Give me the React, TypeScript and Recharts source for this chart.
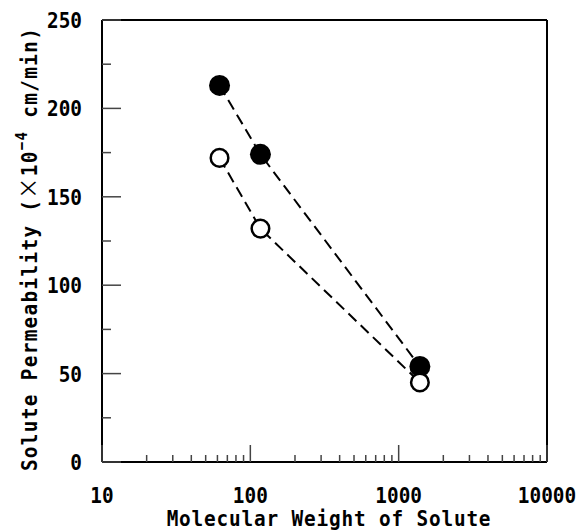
import React from 'react';
import {
  ScatterChart,
  Scatter,
  XAxis,
  YAxis,
  ReferenceLine,
} from 'recharts';

// Molecular weight of the three solutes
const molecularWeights = [62, 117, 1390];
// Solute permeability (x10^-4 cm/min)
const filledPermeability = [213, 174, 54];
const openPermeability = [172, 132, 45];

const xMajorTicks = [10, 100, 1000, 10000];
const xMinorTicks = [
  20, 30, 40, 50, 60, 70, 80, 90,
  200, 300, 400, 500, 600, 700, 800, 900,
  2000, 3000, 4000, 5000, 6000, 7000, 8000, 9000,
];
const yMajorTicks = [0, 50, 100, 150, 200, 250];
const yMinorTicks = [25, 75, 125, 175, 225];

const filledData = molecularWeights.map((w, i) => ({ x: w, y: filledPermeability[i] }));
const openData = molecularWeights.map((w, i) => ({ x: w, y: openPermeability[i] }));

const FONT = '"DejaVu Sans Mono", monospace';
const TICK_COLOR = '#444';
// gothic-looking condensed text: mono font squeezed horizontally
const SQUEEZE = 0.88;

const XTick = (props: any) => {
  const { x, y, payload } = props;
  const major = xMajorTicks.includes(payload.value);
  return (
    <g>
      <line x1={x} y1={y} x2={x} y2={y - (major ? 17 : 7)} stroke={TICK_COLOR} strokeWidth={1.5} />
      {major && (
        <text
          transform={`translate(${x}, ${y + 41}) scale(${SQUEEZE}, 1)`}
          textAnchor="middle"
          fontFamily={FONT}
          fontWeight="bold"
          fontSize={22}
          fill="#000"
        >
          {payload.value}
        </text>
      )}
    </g>
  );
};

const YTick = (props: any) => {
  const { x, y, payload } = props;
  const major = yMajorTicks.includes(payload.value);
  return (
    <g>
      <line x1={x} y1={y} x2={x + (major ? 19 : 9)} y2={y} stroke={TICK_COLOR} strokeWidth={1.5} />
      {major && (
        <text
          transform={`translate(${x - 20}, ${y + 8}) scale(${SQUEEZE}, 1)`}
          textAnchor="end"
          fontFamily={FONT}
          fontWeight="bold"
          fontSize={22}
          fill="#000"
        >
          {payload.value}
        </text>
      )}
    </g>
  );
};

const filledDot = (p: any) => <circle cx={p.cx} cy={p.cy} r={10.5} fill="#000" />;
const openDot = (p: any) => (
  <circle cx={p.cx} cy={p.cy} r={8.8} fill="#fff" stroke="#000" strokeWidth={2.5} />
);

const dashLine = { stroke: '#000', strokeWidth: 2, strokeDasharray: '11 6' };

export default function App() {
  return (
    <div style={{ position: 'absolute', left: 0, top: 0, width: 578, height: 532, background: '#fff' }}>
      <ScatterChart width={578} height={532} margin={{ top: 20, right: 31, bottom: 0, left: 0 }}>
        <XAxis
          type="number"
          dataKey="x"
          scale="log"
          domain={[10, 10000]}
          allowDataOverflow
          ticks={[...xMajorTicks, ...xMinorTicks]}
          interval={0}
          tick={<XTick />}
          tickLine={false}
          tickSize={0}
          tickMargin={0}
          height={70}
          axisLine={{ stroke: '#000', strokeWidth: 2 }}
        />
        <YAxis
          type="number"
          dataKey="y"
          domain={[0, 250]}
          allowDataOverflow
          ticks={[...yMajorTicks, ...yMinorTicks]}
          interval={0}
          tick={<YTick />}
          tickLine={false}
          tickSize={0}
          tickMargin={0}
          width={102}
          axisLine={{ stroke: '#000', strokeWidth: 2 }}
        />
        <ReferenceLine y={250} stroke="#000" strokeWidth={2} />
        <ReferenceLine x={10000} stroke="#000" strokeWidth={2} />
        <Scatter data={filledData} line={dashLine} shape={filledDot} isAnimationActive={false} />
        <Scatter data={openData} line={dashLine} shape={openDot} isAnimationActive={false} />
        <text
          transform={`translate(329, 526) scale(${SQUEEZE}, 1)`}
          textAnchor="middle"
          fontFamily={FONT}
          fontWeight="bold"
          fontSize={22}
          letterSpacing={0.95}
          fill="#000"
        >
          Molecular Weight of Solute
        </text>
        <text
          transform={`translate(37, 249) rotate(-90) scale(${SQUEEZE}, 1)`}
          textAnchor="middle"
          fontFamily={FONT}
          fontWeight="bold"
          fontSize={22}
          letterSpacing={1.5}
          fill="#000"
        >
          Solute Permeability (
          <tspan fontFamily='"Noto Sans CJK JP", sans-serif' fontSize={24} fontWeight="normal">×</tspan>
          10
          <tspan fontSize={16} dy={-10}>−4</tspan>
          <tspan dy={10}> cm/min)</tspan>
        </text>
      </ScatterChart>
    </div>
  );
}
